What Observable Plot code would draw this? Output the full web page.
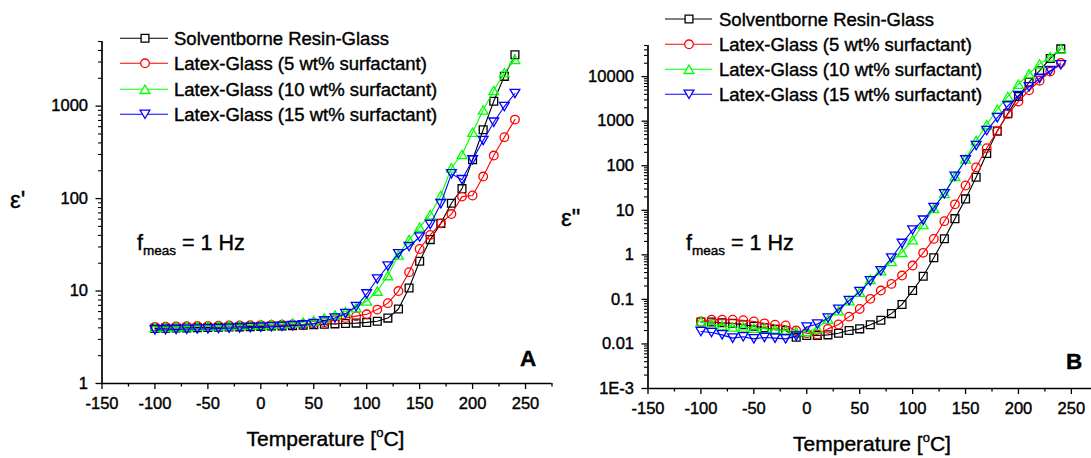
<!DOCTYPE html>
<html><head><meta charset="utf-8">
<script src="https://cdn.jsdelivr.net/npm/d3@7"></script>
<script src="https://cdn.jsdelivr.net/npm/@observablehq/plot@0.6"></script>
<style>
body{margin:0;background:#fff;}
#wrap{position:relative;width:1091px;height:458px;overflow:hidden;font-family:"Liberation Sans",Arial,sans-serif;}
#wrap > div, #wrap > svg{position:absolute;top:0;}
#wrap svg text{stroke:#000;stroke-width:0.4px;}
</style></head><body>
<div id="wrap"><div id="pa" style="left:0px"></div><div id="pb" style="left:545px"></div></div>
<script>
// ---------- data ----------
const temperature = [-100,-90,-80,-70,-60,-50,-40,-30,-20,-10,0,10,20,30,40,50,60,70,80,90,100,110,120,130,140,150,160,170,180,190,200,210,220,230,240];
const seriesNames = ["Solventborne Resin-Glass","Latex-Glass (5 wt% surfactant)","Latex-Glass (10 wt% surfactant)","Latex-Glass (15 wt% surfactant)"];
const seriesColors = ["#000000","#ff0000","#00ff00","#0000ff"];

// panel A: epsilon'
const epsPrimeSolvent = [3.95,3.97,3.99,4.0,4.02,4.04,4.06,4.08,4.1,4.12,4.15,4.18,4.2,4.23,4.27,4.32,4.38,4.42,4.46,4.5,4.58,4.72,5.1,6.4,10.8,21,36,54,89,128,263,555,1130,2100,3600];
const epsPrimeLatex5 = [4.1,4.12,4.14,4.16,4.18,4.2,4.22,4.24,4.25,4.26,4.28,4.3,4.32,4.35,4.38,4.45,4.6,4.85,5.1,5.35,5.6,6.3,7.4,10,16,28.5,40.5,54,68,105,108,173,292,461,715];
const epsPrimeLatex10 = [4.05,4.08,4.1,4.13,4.16,4.18,4.2,4.23,4.26,4.3,4.33,4.37,4.42,4.5,4.6,4.8,5.1,5.5,6.0,6.6,7.8,10,14.7,24.6,36,49,67,108,215,300,522,910,1475,2300,3200];
const epsPrimeLatex15 = [3.8,3.82,3.84,3.86,3.88,3.9,3.93,3.96,3.99,4.02,4.05,4.1,4.15,4.22,4.3,4.45,4.75,5.1,5.7,6.8,9.3,13.5,18.6,25.3,30.3,38.4,52.5,88,185,160,263,425,670,990,1370];

// panel B: epsilon''
const epsDoubleSolvent = [0.031,0.031,0.030,0.029,0.027,0.025,0.023,0.021,0.020,0.0142,0.0155,0.0155,0.016,0.0174,0.020,0.0218,0.027,0.034,0.048,0.077,0.158,0.33,0.86,2.3,6.5,18,55,188,600,1480,3600,7500,13600,25500,41900];
const epsDoubleLatex5 = [0.032,0.035,0.035,0.035,0.034,0.032,0.029,0.027,0.026,0.020,0.0174,0.0163,0.0218,0.0273,0.041,0.061,0.103,0.158,0.223,0.343,0.575,1.11,2.28,5.7,13.6,36,92,248,600,1457,2750,4950,8100,13000,20400];
const epsDoubleLatex10 = [0.032,0.028,0.026,0.024,0.024,0.0226,0.022,0.021,0.020,0.019,0.019,0.022,0.036,0.056,0.094,0.145,0.28,0.44,0.71,1.14,2.2,4.8,11,24,58,142,367,830,1850,3600,6750,11600,19300,28000,41900];
const epsDoubleLatex15 = [0.019,0.018,0.016,0.0135,0.0145,0.013,0.014,0.0135,0.013,0.015,0.024,0.028,0.038,0.060,0.094,0.15,0.26,0.44,0.85,1.8,3.6,6.0,11.5,23.5,58,135,283,615,1200,2200,3750,5900,9100,13600,18500];

// ticks
const xMajorTicks = [-150,-100,-50,0,50,100,150,200,250];
const xMinorTicks = [-125,-75,-25,25,75,125,175,225,275];
const yMajorA = [1,10,100,1000];
const yMajorLabelsA = ["1","10","100","1000"];
const yMajorB = [0.001,0.01,0.1,1,10,100,1000,10000];
const yMajorLabelsB = ["1E-3","0.01","0.1","1","10","100","1000","10000"];

// ---------- symbols ----------
const symSquare = {draw(c){const h=3.9;c.moveTo(-h,-h);c.lineTo(h,-h);c.lineTo(h,h);c.lineTo(-h,h);c.closePath();}};
const symCircle = {draw(c){const r=4.3;c.moveTo(r,0);c.arc(0,0,r,0,2*Math.PI);c.closePath();}};
const symUp = {draw(c){const w=4.9,h=4.2;c.moveTo(0,-h);c.lineTo(w,h);c.lineTo(-w,h);c.closePath();}};
const symDown = {draw(c){const w=4.9,h=4.2;c.moveTo(0,h);c.lineTo(w,-h);c.lineTo(-w,-h);c.closePath();}};
const symbols = [symSquare,symCircle,symUp,symDown];

function minorLog(lo, hi){
  const out=[];
  for(let e=Math.round(Math.log10(lo)); Math.pow(10,e)<hi; e++){
    for(let k=2;k<=9;k++){const v=k*Math.pow(10,e); if(v<=hi*1.0001) out.push(v);}
  }
  return out;
}

function panel(el, cfg){
  const {width,height,mL,mR,mT,mB,xDomain,yDomain,yMajor,yLabels,series} = cfg;
  const marks = [];
  series.forEach((vals,i)=>{
    const rows = temperature.map((t,j)=>({T:t,v:vals[j]}));
    marks.push(Plot.line(rows,{x:"T",y:"v",stroke:seriesColors[i],strokeWidth:1.1}));
    marks.push(Plot.dot(rows,{x:"T",y:"v",symbol:symbols[i],r:4,stroke:seriesColors[i],fill:"none",strokeWidth:1.3}));
  });
  const labelMap = new Map(yMajor.map((d,i)=>[d,yLabels[i]]));
  const p = Plot.plot({
    width,height,marginLeft:mL,marginRight:mR,marginTop:mT,marginBottom:mB,
    style:{fontFamily:"'Liberation Sans',Arial,sans-serif",fontSize:"16.5px",background:"transparent",overflow:"visible",color:"#000"},
    x:{domain:xDomain},
    y:{type:"log",domain:yDomain},
    marks:[
      Plot.axisX({ticks:xMajorTicks.filter(d=>d<=xDomain[1]),tickSize:6,tickPadding:8,strokeWidth:1.3,fontSize:16.5,tickFormat:d=>String(d),label:null}),
      Plot.axisX({ticks:xMinorTicks.filter(d=>d<=xDomain[1]),tickSize:3.5,strokeWidth:1.3,tickFormat:()=>"",label:null}),
      Plot.axisY({ticks:yMajor,tickSize:6,tickPadding:8,strokeWidth:1.3,fontSize:16.5,tickFormat:d=>labelMap.get(d),label:null}),
      Plot.axisY({ticks:minorLog(yDomain[0],yDomain[1]),tickSize:3.5,strokeWidth:1.1,tickFormat:()=>"",label:null}),
      Plot.ruleX([xDomain[0]],{stroke:"#000",strokeWidth:1.7}),
      Plot.ruleY([yDomain[0]],{stroke:"#000",strokeWidth:1.7}),
      ...marks
    ]
  });
  document.getElementById(el).appendChild(p);
}

panel("pa",{width:560,height:458,mL:101.5,mR:8.5,mT:41,mB:75,xDomain:[-150,275],yDomain:[1,5000],
  yMajor:yMajorA,yLabels:yMajorLabelsA,series:[epsPrimeSolvent,epsPrimeLatex5,epsPrimeLatex10,epsPrimeLatex15]});
panel("pb",{width:546,height:458,mL:102.5,mR:0,mT:45,mB:70,xDomain:[-150,269],yDomain:[0.001,50000],
  yMajor:yMajorB,yLabels:yMajorLabelsB,series:[epsDoubleSolvent,epsDoubleLatex5,epsDoubleLatex10,epsDoubleLatex15]});

// ---------- overlay: legends & annotations ----------
const ov = d3.select("#wrap").append("svg").attr("width",1091).attr("height",458)
  .style("left","0px").style("pointer-events","none")
  .attr("font-family","'Liberation Sans',Arial,sans-serif");

function legend(x0,x1,xm,xt,rows){
  seriesNames.forEach((name,i)=>{
    const y=rows[i];
    ov.append("line").attr("x1",x0).attr("x2",x1).attr("y1",y).attr("y2",y).attr("stroke",seriesColors[i]).attr("stroke-width",1.1);
    const pth=d3.path(); symbols[i].draw(pth);
    ov.append("path").attr("d",pth.toString()).attr("transform",`translate(${xm},${y})`).attr("fill","#fff").attr("stroke",seriesColors[i]).attr("stroke-width",1.3);
    ov.append("text").attr("x",xt).attr("y",y+6.7).attr("font-size",18.5).attr("fill","#000").text(name);
  });
}
legend(120,168,145,174,[38.3,63.3,89.3,114.3]);
legend(665,712,689,719,[19,44.3,69.3,94.3]);

function fmeas(x,y){
  const t=ov.append("text").attr("x",x).attr("y",y).attr("font-size",21.5).attr("fill","#000");
  t.append("tspan").text("f");
  t.append("tspan").attr("font-size",13.5).attr("dy",5).text("meas");
  t.append("tspan").attr("dy",-5).text(" = 1 Hz");
}
fmeas(137,250);
fmeas(686,250);

ov.append("text").attr("x",528).attr("y",366).attr("text-anchor","middle").attr("font-size",22.5).attr("font-weight","bold").text("A");
ov.append("text").attr("x",1074).attr("y",369).attr("text-anchor","middle").attr("font-size",22.5).attr("font-weight","bold").text("B");

ov.append("text").attr("x",10).attr("y",208).attr("font-size",24).text("ε'");
ov.append("text").attr("x",561).attr("y",226).attr("font-size",24).text("ε\"");

function xtitle(cx,y){
  const t=ov.append("text").attr("x",cx).attr("y",y).attr("text-anchor","middle").attr("font-size",21);
  t.append("tspan").text("Temperature [");
  t.append("tspan").attr("font-size",13).attr("dy",-9).text("o");
  t.append("tspan").attr("dy",9).text("C]");
}
xtitle(325.5,446);
xtitle(872,450.5);
</script>
</body></html>
